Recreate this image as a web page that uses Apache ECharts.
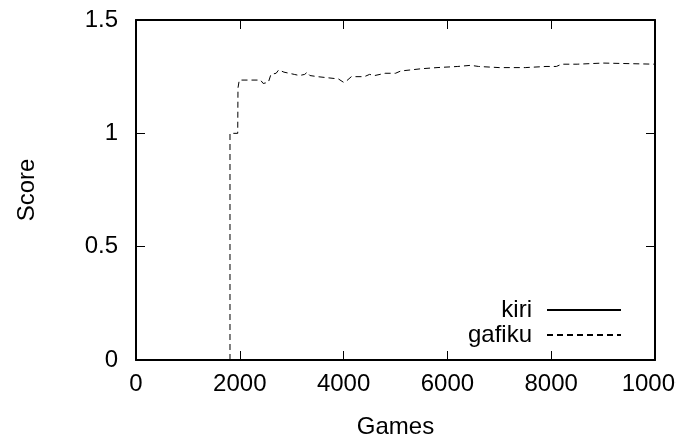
<!DOCTYPE html>
<html>
<head>
<meta charset="utf-8">
<script src="https://cdn.jsdelivr.net/npm/echarts@6/dist/echarts.min.js"></script>
<style>html,body{margin:0;padding:0;background:#fff}#c{width:676px;height:442px}</style>
</head>
<body>
<div id="c"></div>
<script>
const seriesNames = ['kiri', 'gafiku'];
const kiriData = [];
const gafikuGames = [1811, 1811, 1960, 1965, 1990, 2100, 2400, 2450, 2550, 2600, 2700, 2750, 2850, 2950, 3050, 3150, 3250, 3300, 3350, 3500, 3700, 3900, 4000, 4050, 4150, 4400, 4500, 4600, 4800, 5000, 5100, 5300, 5500, 5800, 6200, 6450, 6600, 7000, 7500, 7900, 8100, 8200, 8500, 9000, 10000];
const gafikuScore = [0, 1.0, 1.0, 1.2, 1.235, 1.235, 1.235, 1.22, 1.225, 1.26, 1.265, 1.28, 1.27, 1.265, 1.26, 1.255, 1.26, 1.27, 1.255, 1.25, 1.245, 1.24, 1.225, 1.23, 1.25, 1.25, 1.26, 1.255, 1.265, 1.265, 1.275, 1.28, 1.285, 1.29, 1.295, 1.30, 1.295, 1.29, 1.29, 1.295, 1.295, 1.305, 1.305, 1.31, 1.305];
const xTicks = {min: 0, max: 10000, interval: 2000};
const yTicks = {min: 0, max: 1.5, interval: 0.5};

const font = 'Liberation Sans, Arial, sans-serif';
const FS = 24;
const chart = echarts.init(document.getElementById('c'), null, {renderer: 'canvas'});
const axisLineStyle = {color: '#000', width: 2};
const tickStyle = {show: true, inside: true, length: 9, lineStyle: {color: '#000', width: 1}};
const labelStyle = {color: '#000', fontSize: FS, fontFamily: font};
const legendBase = {right: 49, orient: 'vertical', align: 'right', itemWidth: 74, itemHeight: 14,
  itemStyle: {opacity: 0},
  textStyle: {color: '#000', fontSize: FS, fontFamily: font, padding: [0, 10, 0, 0]}};
chart.setOption({
  animation: false,
  backgroundColor: '#fff',
  grid: {left: 136, right: 21, top: 20, bottom: 82, show: false, outerBoundsMode: 'none', containLabel: false},
  legend: [
    Object.assign({data: [seriesNames[0]], top: 293}, legendBase),
    Object.assign({data: [seriesNames[1]], top: 318}, legendBase)
  ],
  xAxis: [
    {type: 'value', min: xTicks.min, max: xTicks.max, interval: xTicks.interval, position: 'bottom',
     name: 'Games', nameLocation: 'middle', nameGap: 55, nameTextStyle: {color: '#000', fontSize: FS, fontFamily: font},
     axisLine: {show: true, onZero: false, lineStyle: axisLineStyle}, axisTick: tickStyle,
     axisLabel: Object.assign({margin: 12, formatter: v => String(v), hideOverlap: false}, labelStyle), splitLine: {show: false}},
    {type: 'value', min: xTicks.min, max: xTicks.max, interval: xTicks.interval, position: 'top',
     axisLine: {show: true, onZero: false, lineStyle: axisLineStyle}, axisTick: tickStyle,
     axisLabel: {show: false}, splitLine: {show: false}}
  ],
  yAxis: [
    {type: 'value', min: yTicks.min, max: yTicks.max, interval: yTicks.interval, position: 'left',
     name: 'Score', nameLocation: 'middle', nameGap: 97, nameRotate: 90, nameTextStyle: {color: '#000', fontSize: FS, fontFamily: font},
     axisLine: {show: true, onZero: false, lineStyle: axisLineStyle}, axisTick: tickStyle,
     axisLabel: Object.assign({margin: 18, formatter: v => String(v)}, labelStyle), splitLine: {show: false}},
    {type: 'value', min: yTicks.min, max: yTicks.max, interval: yTicks.interval, position: 'right',
     axisLine: {show: true, onZero: false, lineStyle: axisLineStyle}, axisTick: tickStyle,
     axisLabel: {show: false}, splitLine: {show: false}}
  ],
  series: [
    {name: seriesNames[0], type: 'line', data: kiriData, symbol: 'none', showSymbol: false,
     lineStyle: {color: '#000', width: 1, type: 'solid'}, itemStyle: {color: '#000'}},
    {name: seriesNames[1], type: 'line', data: gafikuGames.map((g, i) => [g, gafikuScore[i]]), symbol: 'none', showSymbol: false,
     lineStyle: {color: '#000', width: 1, type: [6, 4]}, itemStyle: {color: '#000'}}
  ]
});
</script>
</body>
</html>
